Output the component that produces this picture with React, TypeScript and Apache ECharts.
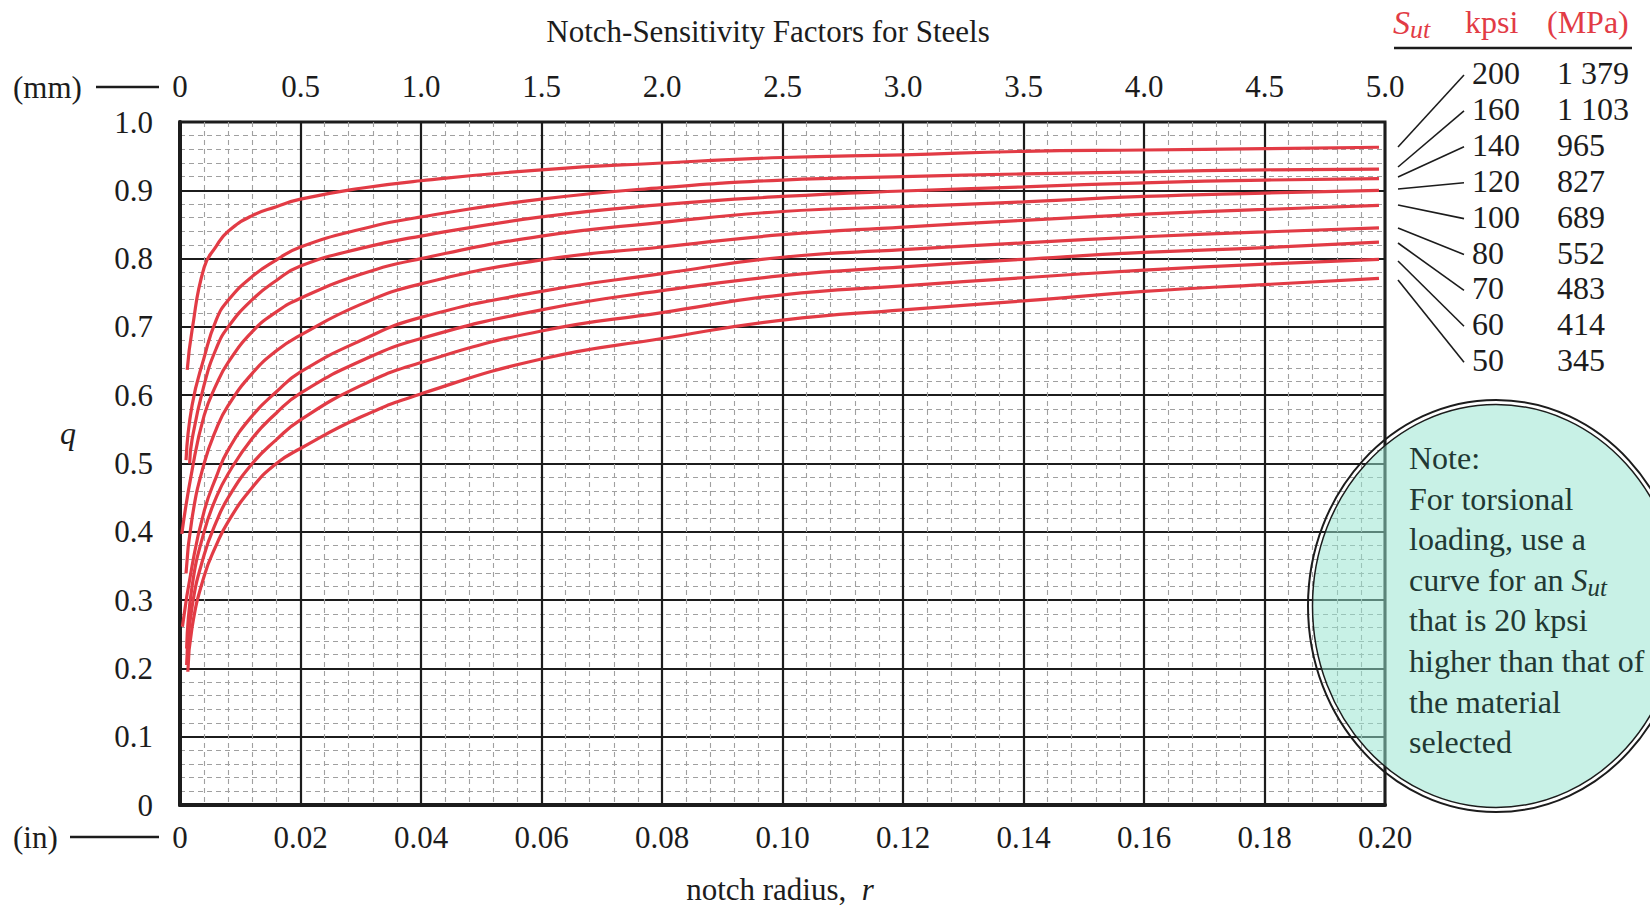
import React, { useEffect, useRef } from "react";
import * as echarts from "echarts";

// ---------- data ----------
const xIn = [0.002, 0.004, 0.006, 0.008, 0.012, 0.016, 0.02, 0.03, 0.04, 0.06, 0.08, 0.10, 0.12, 0.14, 0.16, 0.18, 0.199];

const sutKpsi = ["200", "160", "140", "120", "100", "80", "70", "60", "50"];
const sutMPa = ["1 379", "1 103", "965", "827", "689", "552", "483", "414", "345"];

const startX = [0.0012, 0.001, 0.0016, 0.0003, 0.001, 0.0004, 0.0011, 0.0011, 0.0013];
const startQ = [0.637, 0.505, 0.50, 0.397, 0.339, 0.261, 0.229, 0.205, 0.195];

const q200 = [0.695, 0.787, 0.818, 0.840, 0.863, 0.876, 0.887, 0.903, 0.914, 0.930, 0.940, 0.948, 0.952, 0.957, 0.959, 0.961, 0.963];
const q160 = [0.585, 0.655, 0.710, 0.739, 0.774, 0.798, 0.817, 0.843, 0.861, 0.887, 0.904, 0.915, 0.920, 0.924, 0.927, 0.930, 0.931];
const q140 = [0.535, 0.615, 0.668, 0.700, 0.740, 0.768, 0.789, 0.815, 0.833, 0.861, 0.879, 0.891, 0.899, 0.905, 0.911, 0.915, 0.917];
const q120 = [0.490, 0.570, 0.615, 0.648, 0.693, 0.722, 0.742, 0.777, 0.800, 0.833, 0.853, 0.869, 0.876, 0.883, 0.891, 0.896, 0.900];
const q100 = [0.420, 0.500, 0.550, 0.585, 0.632, 0.665, 0.688, 0.733, 0.763, 0.798, 0.817, 0.835, 0.846, 0.856, 0.865, 0.872, 0.878];
const q80 = [0.350, 0.430, 0.480, 0.520, 0.570, 0.605, 0.634, 0.680, 0.714, 0.752, 0.778, 0.802, 0.813, 0.823, 0.832, 0.839, 0.845];
const q70 = [0.320, 0.400, 0.450, 0.485, 0.537, 0.574, 0.603, 0.650, 0.683, 0.725, 0.753, 0.775, 0.788, 0.799, 0.809, 0.816, 0.824];
const q60 = [0.290, 0.366, 0.414, 0.450, 0.500, 0.535, 0.564, 0.614, 0.648, 0.694, 0.721, 0.747, 0.760, 0.772, 0.783, 0.792, 0.799];
const q50 = [0.260, 0.335, 0.380, 0.415, 0.465, 0.500, 0.522, 0.568, 0.602, 0.653, 0.683, 0.710, 0.725, 0.738, 0.752, 0.762, 0.771];

const curves = [q200, q160, q140, q120, q100, q80, q70, q60, q50];

const noteLines = [
  "Note:",
  "For torsional",
  "loading, use a",
  "{a|curve for an }{i|S}{s|ut}",
  "that is 20 kpsi",
  "higher than that of",
  "the material",
  "selected",
];

// ---------- styling ----------
const SERIF = "'Liberation Serif', 'Times New Roman', 'DejaVu Serif', serif";
const RED = "#e23b45";
const INK = "#1c1c1c";

const txt = (x: number, y: number, text: string, extra: any = {}) => ({
  type: "text",
  x,
  y,
  z: 100,
  style: {
    text,
    fontFamily: SERIF,
    fontSize: 31,
    fill: INK,
    align: extra.align || "left",
    textAlign: extra.align || "left",
    verticalAlign: "middle",
    textVerticalAlign: "middle",
    ...extra,
  },
});

const line = (x1: number, y1: number, x2: number, y2: number, w = 2) => ({
  type: "line",
  z: 100,
  shape: { x1, y1, x2, y2 },
  style: { stroke: INK, lineWidth: w },
});

export default function App() {
  const ref = useRef<HTMLDivElement>(null);

  useEffect(() => {
    if (!ref.current) return;
    const chart = echarts.init(ref.current, null, { renderer: "svg" });

    const series = curves.map((vals, i) => ({
      type: "line",
      name: sutKpsi[i],
      xAxisIndex: 0,
      yAxisIndex: 0,
      showSymbol: false,
      symbol: "none",
      smooth: 0.5,
      z: 5,
      lineStyle: { color: RED, width: 3.2 },
      data: [[startX[i], startQ[i]], ...xIn.map((x, j) => [x, vals[j]])],
    }));

    // legend table leader lines (annotation)
    const leaderLeft = [147, 167, 177, 189, 205, 228, 243, 261, 280];
    const rowY = sutKpsi.map((_, i) => 73 + i * 35.9);

    const graphic: any[] = [];
    graphic.push(
      txt(768, 31, "Notch-Sensitivity Factors for Steels", { align: "center" }),
      txt(13, 87, "(mm)"),
      line(96, 87, 159, 87, 2.5),
      txt(13, 837, "(in)"),
      line(70, 837, 159, 837, 2.5),
      txt(68, 433, "q", { fontStyle: "italic", align: "center", fontSize: 32 }),
      txt(780, 889, "{a|notch radius,  }{i|r}", {
        align: "center",
        rich: {
          a: { fontFamily: SERIF, fontSize: 31, fill: INK, lineHeight: 32 },
          i: { fontFamily: SERIF, fontSize: 31, fill: INK, fontStyle: "italic", lineHeight: 32 },
        },
      }),
      // legend header
      txt(1393, 22, "{i|S}{s|ut}", {
        fill: RED,
        rich: {
          i: { fontFamily: SERIF, fontSize: 34, fill: RED, fontStyle: "italic", lineHeight: 40, verticalAlign: "middle" },
          s: { fontFamily: SERIF, fontSize: 26, fill: RED, fontStyle: "italic", lineHeight: 40, verticalAlign: "bottom" },
        },
      }),
      txt(1465, 22, "kpsi", { fill: RED, fontSize: 32 }),
      txt(1547, 22, "(MPa)", { fill: RED, fontSize: 32 }),
      line(1394, 48, 1632, 48, 2.5)
    );
    sutKpsi.forEach((k, i) => {
      graphic.push(txt(1472, rowY[i], k, { fontSize: 32 }));
      graphic.push(txt(1557, rowY[i], sutMPa[i], { fontSize: 32 }));
      graphic.push(line(1398, leaderLeft[i], 1464, rowY[i] + 2, 1.6));
    });

    // note ellipse
    graphic.push({
      type: "ellipse",
      z: 50,
      shape: { cx: 1496, cy: 606, rx: 188, ry: 206 },
      style: { fill: "none", stroke: INK, lineWidth: 2 },
    });
    graphic.push({
      type: "ellipse",
      z: 50,
      shape: { cx: 1496, cy: 606, rx: 183.5, ry: 201.5 },
      style: { fill: "rgba(150, 228, 208, 0.52)", stroke: INK, lineWidth: 1.5 },
    });
    noteLines.forEach((t, i) => {
      graphic.push(
        txt(1409, 458 + i * 40.6, t, {
          fontSize: 32,
          fill: "#213833",
          rich: {
            a: { fontFamily: SERIF, fontSize: 32, fill: "#213833", lineHeight: 40, verticalAlign: "middle" },
            i: { fontFamily: SERIF, fontSize: 32, fill: "#213833", fontStyle: "italic", lineHeight: 40, verticalAlign: "middle" },
            s: { fontFamily: SERIF, fontSize: 25, fill: "#213833", fontStyle: "italic", lineHeight: 40, verticalAlign: "bottom" },
          },
        })
      );
    });

    const minorLine = { show: true, lineStyle: { color: "#a0a0a0", width: 1.1, type: [5, 4] } };

    chart.setOption({
      animation: false,
      backgroundColor: "#ffffff",
      grid: {
        left: 180,
        top: 122,
        width: 1205,
        height: 683,
        show: true,
        borderColor: INK,
        borderWidth: 3,
        backgroundColor: "transparent",
      },
      xAxis: [
        {
          type: "value",
          position: "bottom",
          min: 0,
          max: 0.2,
          interval: 0.02,
          axisLine: { show: true, lineStyle: { color: INK, width: 4 } },
          axisTick: { show: false },
          minorTick: { show: false, splitNumber: 5 },
          minorSplitLine: minorLine,
          splitLine: { show: true, lineStyle: { color: INK, width: 2.2 } },
          axisLabel: {
            margin: 17,
            fontFamily: SERIF,
            fontSize: 31,
            color: INK,
            formatter: (v: number) => (v === 0 ? "0" : v.toFixed(2)),
          },
        },
        {
          type: "value",
          position: "top",
          min: 0,
          max: 5,
          interval: 0.5,
          axisLine: { show: false },
          axisTick: { show: false },
          splitLine: { show: false },
          axisLabel: {
            margin: 20,
            fontFamily: SERIF,
            fontSize: 31,
            color: INK,
            formatter: (v: number) => (v === 0 ? "0" : v.toFixed(1)),
          },
        },
      ],
      yAxis: {
        type: "value",
        min: 0,
        max: 1,
        interval: 0.1,
        axisLine: { show: true, lineStyle: { color: INK, width: 4 } },
        axisTick: { show: false },
        minorTick: { show: false, splitNumber: 5 },
        minorSplitLine: minorLine,
        splitLine: { show: true, lineStyle: { color: INK, width: 2.2 } },
        axisLabel: {
          margin: 27,
          fontFamily: SERIF,
          fontSize: 31,
          color: INK,
          formatter: (v: number) => (v === 0 ? "0" : v.toFixed(1)),
        },
      },
      series,
      graphic,
    });

    return () => chart.dispose();
  }, []);

  return (
    <div
      ref={ref}
      style={{ position: "absolute", left: 0, top: 0, width: 1650, height: 908, background: "#fff" }}
    />
  );
}
